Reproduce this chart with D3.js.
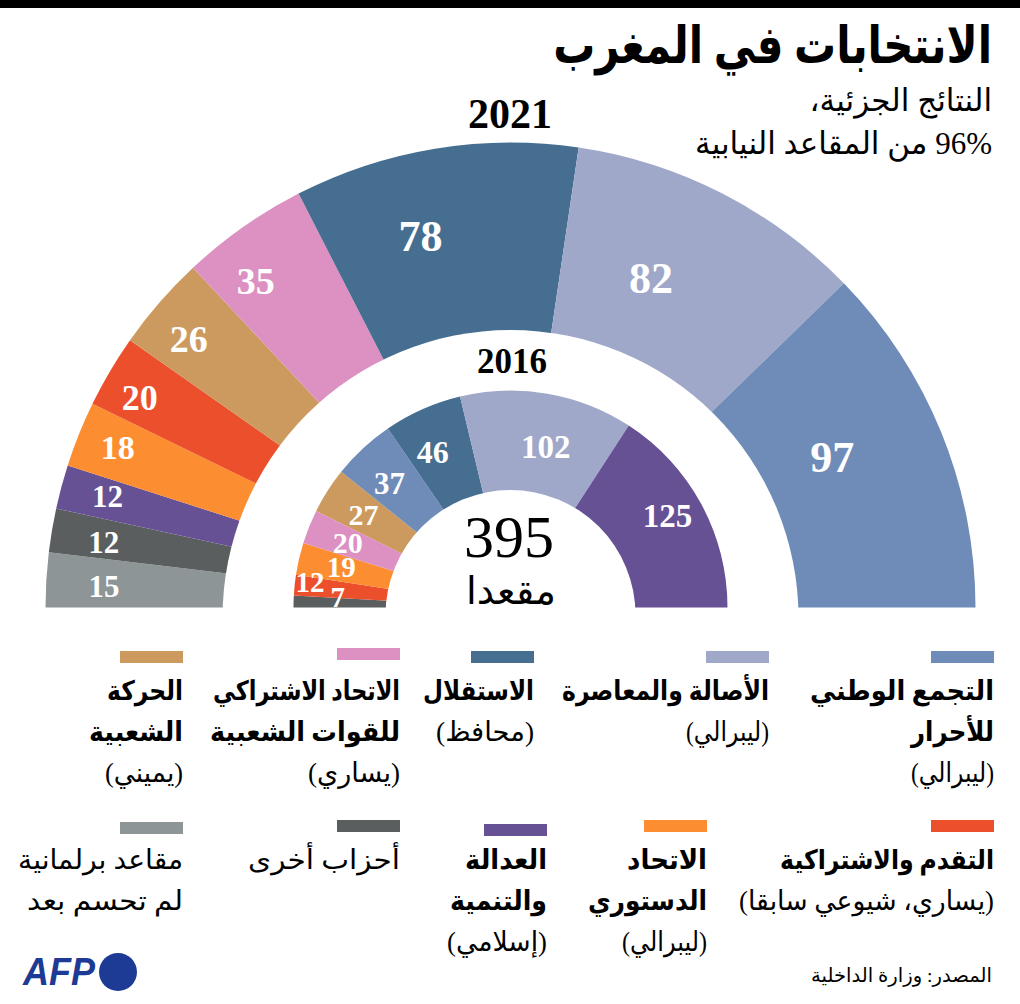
<!DOCTYPE html>
<html lang="ar">
<head>
<meta charset="utf-8">
<script src="https://cdn.jsdelivr.net/npm/d3@7"></script>
<style>
  body { margin: 0; background: #fff; }
  svg { display: block; }
  text { font-family: "Liberation Serif", "DejaVu Sans", serif; }
  .ar { direction: rtl; text-anchor: start; fill: #000; }
  .num { fill: #fff; font-weight: bold; text-anchor: middle; }
</style>
</head>
<body>
<svg id="chart"></svg>
<script>
const parties = ['rni', 'pam', 'istiqlal', 'usfp', 'mp', 'pps', 'uc', 'pjd', 'others', 'undecided'];
const partyColors = ['#6f8cb9', '#9fa8c8', '#466e91', '#dc91c2', '#cc9a5e', '#ec4f2b', '#fd8d31', '#675195', '#5a5e5e', '#8d9596'];

const parties2021 = ['undecided', 'others', 'pjd', 'uc', 'pps', 'mp', 'usfp', 'istiqlal', 'pam', 'rni'];
const seats2021 = [15, 12, 12, 18, 20, 26, 35, 78, 82, 97];
const labelRadius2021 = [407, 412, 418, 424, 426, 419, 414, 382, 358, 355];
const labelTurn2021 = [-0.4, -0.5, 0.3, 0.3, -1, -1.2, -2.9, -4.3, -4, -2.9];
const labelSize2021 = [31, 31, 31, 34, 36, 38, 38, 44, 44, 44];

const parties2016 = ['others', 'pps', 'uc', 'usfp', 'mp', 'rni', 'istiqlal', 'pam', 'pjd'];
const seats2016 = [7, 12, 19, 20, 27, 37, 46, 102, 125];
const labelRadius2016 = [173, 202, 174, 175, 174, 173, 174, 165, 182];
const labelTurn2016 = [2, 1.2, 0.3, -0.2, -0.3, -1.5, -2.6, 2.5, -1.9];
const labelSize2016 = [29, 29, 29, 30, 30, 31, 32, 33, 33];

const legendParties = ['rni', 'pam', 'istiqlal', 'usfp', 'mp', 'pps', 'uc', 'pjd', 'others', 'undecided'];
const legendBold = [
  ['التجمع الوطني', 'للأحرار'],
  ['الأصالة والمعاصرة'],
  ['الاستقلال'],
  ['الاتحاد الاشتراكي', 'للقوات الشعبية'],
  ['الحركة', 'الشعبية'],
  ['التقدم والاشتراكية'],
  ['الاتحاد', 'الدستوري'],
  ['العدالة', 'والتنمية'],
  [],
  []
];
const legendBoldWidth = [[184, 83], [207], [111], [187, 190], [76, 94], [214], [80, 119], [82, 97], [], []];
const legendPlain = [
  ['(ليبرالي)'],
  ['(ليبرالي)'],
  ['(محافظ)'],
  ['(يساري)'],
  ['(يميني)'],
  ['(يساري، شيوعي سابقا)'],
  ['(ليبرالي)'],
  ['(إسلامي)'],
  ['أحزاب أخرى'],
  ['مقاعد برلمانية', 'لم تحسم بعد']
];
const legendPlainWidth = [[83], [83], [98], [92], [78], [255], [85], [100], [152], [165, 156]];
const legendRight = [994, 769, 534, 400, 183, 994, 707, 547, 400, 183];
const legendTop = [651, 651, 651, 648, 651, 820, 820, 824, 820, 822];
const legendTextY = [700, 700, 700, 700, 700, 869, 869, 869, 869, 869];

const width = 1020, height = 1004;
const cx = 510.5, cy = 607.5;

const svg = d3.select('#chart')
  .attr('width', width)
  .attr('height', height)
  .attr('viewBox', [0, 0, width, height]);

svg.append('rect').attr('width', width).attr('height', 8).attr('fill', '#000');

const color = d3.scaleOrdinal(parties, partyColors);
const pie = d3.pie().sort(null).startAngle(-Math.PI / 2).endAngle(Math.PI / 2);

// the hole is not concentric with the wedges: a white disc sitting a bit lower cuts it
function drawHemicycle(seats, names, inner, outer, holeRadius, holeDrop, radii, turns, sizes) {
  const arc = d3.arc().innerRadius(inner).outerRadius(outer);
  const g = svg.append('g').attr('transform', `translate(${cx},${cy})`);
  const arcs = pie(seats);
  g.selectAll('path')
    .data(arcs)
    .enter()
    .append('path')
      .attr('d', arc)
      .attr('fill', (d, i) => color(names[i]));
  g.append('circle').attr('cy', holeDrop).attr('r', holeRadius).attr('fill', '#fff');
  g.selectAll('text')
    .data(arcs)
    .enter()
    .append('text')
      .attr('class', 'num')
      .attr('dy', '0.34em')
      .attr('font-size', (d, i) => sizes[i])
      .attr('transform', (d, i) => {
        const a = (d.startAngle + d.endAngle) / 2 + turns[i] * Math.PI / 180;
        return `translate(${radii[i] * Math.sin(a)},${-radii[i] * Math.cos(a)})`;
      })
      .text(d => d.value);
}

drawHemicycle(seats2021, parties2021, 260, 465, 288, 10.5, labelRadius2021, labelTurn2021, labelSize2021);
drawHemicycle(seats2016, parties2016, 100, 217, 125, 7.5, labelRadius2016, labelTurn2016, labelSize2016);

// fitWidth squeezes the line sideways, the font here is wider than the original one
function arText(x, y, str, size, weight, fitWidth) {
  const t = svg.append('text')
    .attr('class', 'ar')
    .attr('font-size', size)
    .attr('font-weight', weight || 'normal')
    .text(str);
  const sx = fitWidth ? fitWidth / t.node().getComputedTextLength() : 1;
  t.attr('transform', `translate(${x},${y}) scale(${sx},1)`);
}

arText(992, 63, 'الانتخابات في المغرب', 52, 'bold', 439);
arText(992, 111, 'النتائج الجزئية،', 31);
arText(992, 154, '96% من المقاعد النيابية', 31);

svg.append('text').attr('x', 510).attr('y', 128).attr('text-anchor', 'middle')
  .attr('font-size', 42).attr('font-weight', 'bold').text('2021');
svg.append('text').attr('x', 512).attr('y', 373).attr('text-anchor', 'middle')
  .attr('font-size', 35).attr('font-weight', 'bold').text('2016');
svg.append('text').attr('x', 509).attr('y', 557).attr('text-anchor', 'middle')
  .attr('font-size', 60).text('395');
arText(556, 604, 'مقعدا', 38, 'normal', 90);

legendParties.forEach((p, i) => {
  svg.append('rect')
    .attr('x', legendRight[i] - 63)
    .attr('y', legendTop[i])
    .attr('width', 63)
    .attr('height', 12)
    .attr('fill', color(p));
  let y = legendTextY[i];
  legendBold[i].forEach((line, j) => {
    arText(legendRight[i], y, line, 27, 'bold', legendBoldWidth[i][j]);
    y += 41;
  });
  legendPlain[i].forEach((line, j) => {
    arText(legendRight[i], y, line, 27, 'normal', legendPlainWidth[i][j]);
    y += 41;
  });
});

arText(992, 982, 'المصدر: وزارة الداخلية', 19.6);

// AFP logo
const logo = svg.append('g').attr('fill', '#1d3a94');
const afp = logo.append('text').attr('font-size', 38)
  .attr('font-weight', 'bold').attr('font-style', 'italic')
  .style('font-family', '"Liberation Sans"').text('AFP');
afp.attr('transform', `translate(23,985) scale(${72 / afp.node().getComputedTextLength()},1)`);
logo.append('ellipse').attr('cx', 118).attr('cy', 972).attr('rx', 19).attr('ry', 19);
</script>
</body>
</html>
